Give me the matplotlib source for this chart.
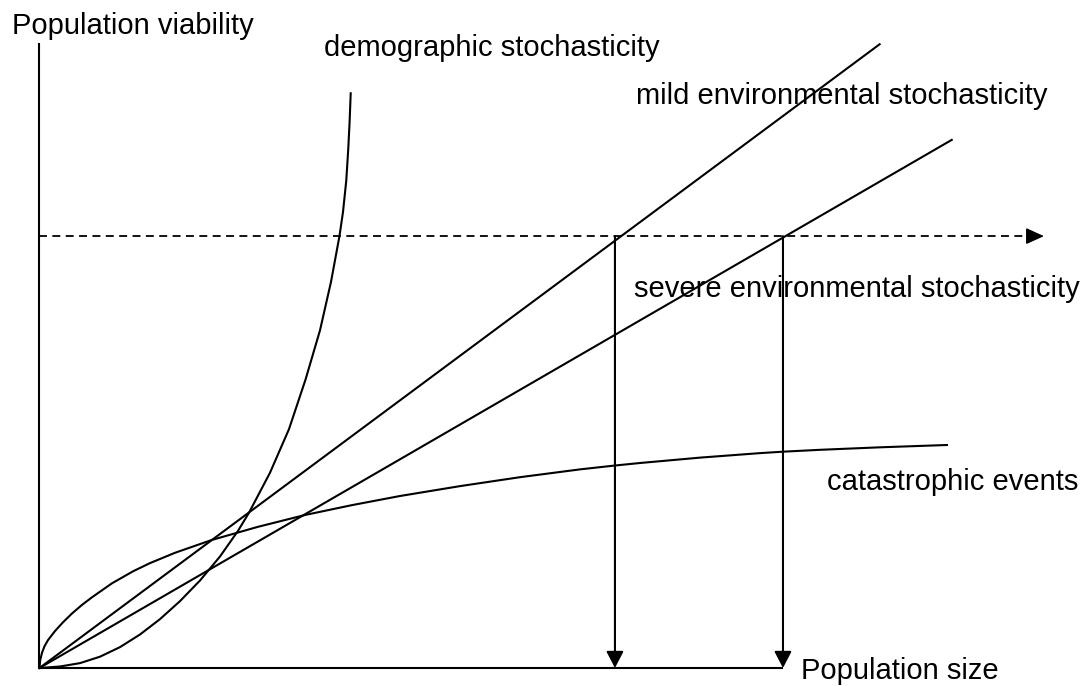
import numpy as np
import matplotlib.pyplot as plt
from matplotlib.patches import FancyArrowPatch

plt.rcParams['font.family'] = ['Liberation Sans', 'DejaVu Sans']

# population size (x) vs viability (y), both on a 0-100 scale
demo_size = [0, 2.76, 5.45, 8.14, 10.83, 13.52, 16.21, 18.90, 21.59, 24.28, 26.70, 28.18,
             31.00, 33.56, 35.78, 37.73, 39.21, 40.35, 40.82, 41.26, 41.53, 41.71, 41.86]
demo_viab = [0, 0.24, 0.78, 1.81, 3.34, 5.36, 7.82, 10.70, 14.0, 17.84, 21.94, 24.85,
             31.23, 38.22, 46.14, 54.03, 61.78, 69.12, 72.93, 77.95, 83.04, 87.36, 91.95]

cat_size = [0, 0.09, 0.34, 0.67, 1.14, 2.08, 3.16, 4.37, 5.72, 7.06, 9.75, 12.58, 14.86,
            18.22, 23.16, 29.39, 35.71, 42.03, 48.49, 56.56, 64.63, 72.70, 77.27, 80.77,
            88.84, 96.91, 100, 104.98, 113.05, 122.06]
cat_viab = [0, 1.22, 2.43, 3.47, 4.45, 5.90, 7.31, 8.72, 10.10, 11.31, 13.55, 15.47, 16.78,
            18.43, 20.48, 22.59, 24.48, 26.06, 27.52, 29.10, 30.53, 31.78, 32.38, 32.80,
            33.66, 34.38, 34.61, 34.91, 35.31, 35.68]

mild_size = [0, 113.0]
mild_viab = [0, 99.8]

severe_size = [0, 122.7]
severe_viab = [0, 84.5]

threshold = 69.1          # minimum viable level
threshold_end = 135.1     # end of the dashed arrow
min_viable_size = [77.4, 100.0]

labels = [
    ('Population viability', -3.7, 101.5),
    ('demographic stochasticity', 38.3, 97.9),
    ('mild environmental stochasticity', 80.2, 90.2),
    ('severe environmental stochasticity', 80.0, 59.4),
    ('catastrophic events', 105.9, 28.5),
    ('Population size', 102.4, -1.8),
]

fig = plt.figure(figsize=(10.89, 6.86), dpi=100)
ax = fig.add_axes([0, 0, 1, 1])
ax.set_xlim(-5.31, 141.16)
ax.set_ylim(-2.88, 106.88)
ax.axis('off')

lw = 1.5
# axes drawn as plain lines
ax.plot([0, 0], [0, 100], color='black', lw=lw, solid_capstyle='butt')
ax.plot([0, max(min_viable_size)], [0, 0], color='black', lw=lw, solid_capstyle='butt')

for xs, ys in [(demo_size, demo_viab), (cat_size, cat_viab),
               (mild_size, mild_viab), (severe_size, severe_viab)]:
    ax.plot(xs, ys, color='black', lw=lw, solid_joinstyle='round')

head_len = 2.1  # data units along x for the dashed arrow head
ax.plot([0, threshold_end - head_len], [threshold, threshold], color='black', lw=1.3,
        dashes=(4.4, 3.0))
ax.add_patch(FancyArrowPatch((threshold_end - head_len, threshold), (threshold_end, threshold),
                             arrowstyle='-|>,head_length=11,head_width=5', mutation_scale=1,
                             color='black', lw=1.1, shrinkA=0, shrinkB=0))

for x in min_viable_size:
    ax.add_patch(FancyArrowPatch((x, threshold), (x, 0),
                                 arrowstyle='-|>,head_length=10,head_width=5.2', mutation_scale=1,
                                 color='black', lw=lw, shrinkA=0, shrinkB=0))

for text, x, y in labels:
    ax.text(x, y, text, fontsize=21, ha='left', va='baseline', color='black')

fig.savefig('out.png', dpi=100, facecolor='white')
